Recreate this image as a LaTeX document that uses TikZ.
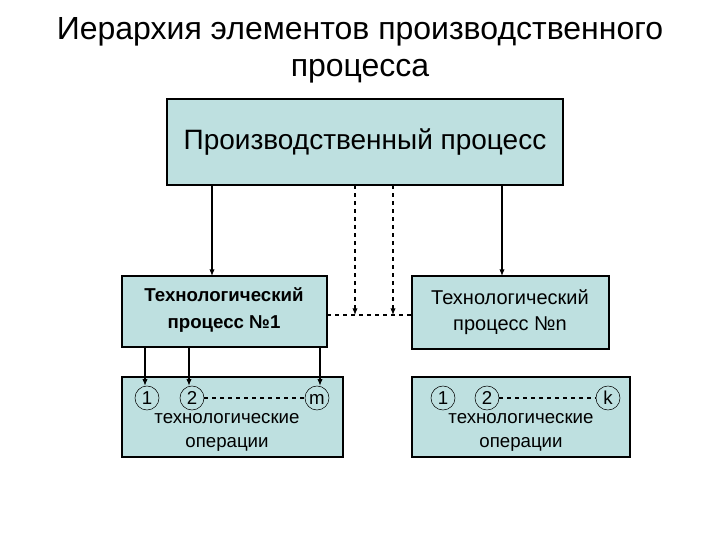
\documentclass[tikz,border=0pt]{standalone}
\usepackage{fontspec}
\setmainfont{Liberation Sans}
\usetikzlibrary{arrows.meta}
\definecolor{boxfill}{RGB}{190,224,224}
\begin{document}
\begin{tikzpicture}[x=0.75pt,y=-0.75pt,
  bx/.style={draw,fill=boxfill,line width=0.8pt},
  circ/.style={draw,circle,minimum size=18pt,inner sep=0pt,text height=9pt,text depth=0pt,font=\fontsize{14}{14}\selectfont},
  arr/.style={-{Latex[length=5pt,width=4pt]},line width=0.8pt},
  dsh/.style={dashed,line width=0.8pt}]
\useasboundingbox (0,0) rectangle (720,540);
\node[align=center,font=\fontsize{24}{28}\selectfont] (title) at (360,50) {Иерархия элементов производственного\\процесса};
\draw[bx] (167,99) rectangle (563,185);
\node[font=\fontsize{21}{24}\selectfont] (pp) at (365,142) {Производственный процесс};
\draw[bx] (122,276) rectangle (327,347);
\node[align=center,font=\bfseries\fontsize{14}{20}\selectfont] (t1) at (224,310) {Технологический\\процесс №1};
\draw[bx] (412,276) rectangle (609,349);
\node[align=center,font=\fontsize{15}{20}\selectfont] (tn) at (510,312) {Технологический\\процесс №n};
\draw[bx] (122,377) rectangle (343,457);
\draw[bx] (412,377) rectangle (630,457);
\node[align=center,font=\fontsize{14}{18}\selectfont] (o1) at (227,432) {технологические\\операции};
\node[align=center,font=\fontsize{14}{18}\selectfont] (o2) at (521,432) {технологические\\операции};
\node[circ] (a1) at (147,398) {1};
\node[circ] (a2) at (192,398) {2};
\node[circ] (am) at (317,398) {m};
\node[circ] (b1) at (443,398) {1};
\node[circ] (b2) at (487,398) {2};
\node[circ] (bk) at (608,398) {k};
\draw[dsh] (a2) -- (am);
\draw[dsh] (b2) -- (bk);
\coordinate (s1) at (212,185); \coordinate (e1) at (212,276);
\coordinate (s2) at (502,185); \coordinate (e2) at (502,276);
\draw[arr] (s1) -- (e1);
\draw[arr] (s2) -- (e2);
\coordinate (d1) at (355,185); \coordinate (f1) at (355,315);
\coordinate (d2) at (393,185); \coordinate (f2) at (393,315);
\draw[dsh,-{Latex[length=5pt,width=4pt]}] (d1) -- (f1);
\draw[dsh,-{Latex[length=5pt,width=4pt]}] (d2) -- (f2);
\coordinate (h1) at (327,315); \coordinate (h2) at (412,315);
\draw[dsh] (h1) -- (h2);
\coordinate (g1) at (145,347); \coordinate (g2) at (189,347); \coordinate (g3) at (320,347);
\draw[arr] (g1) -- (a1.north -| g1);
\draw[arr] (g2) -- (a2.north -| g2);
\draw[arr] (g3) -- (am.north -| g3);
\end{tikzpicture}
\end{document}
